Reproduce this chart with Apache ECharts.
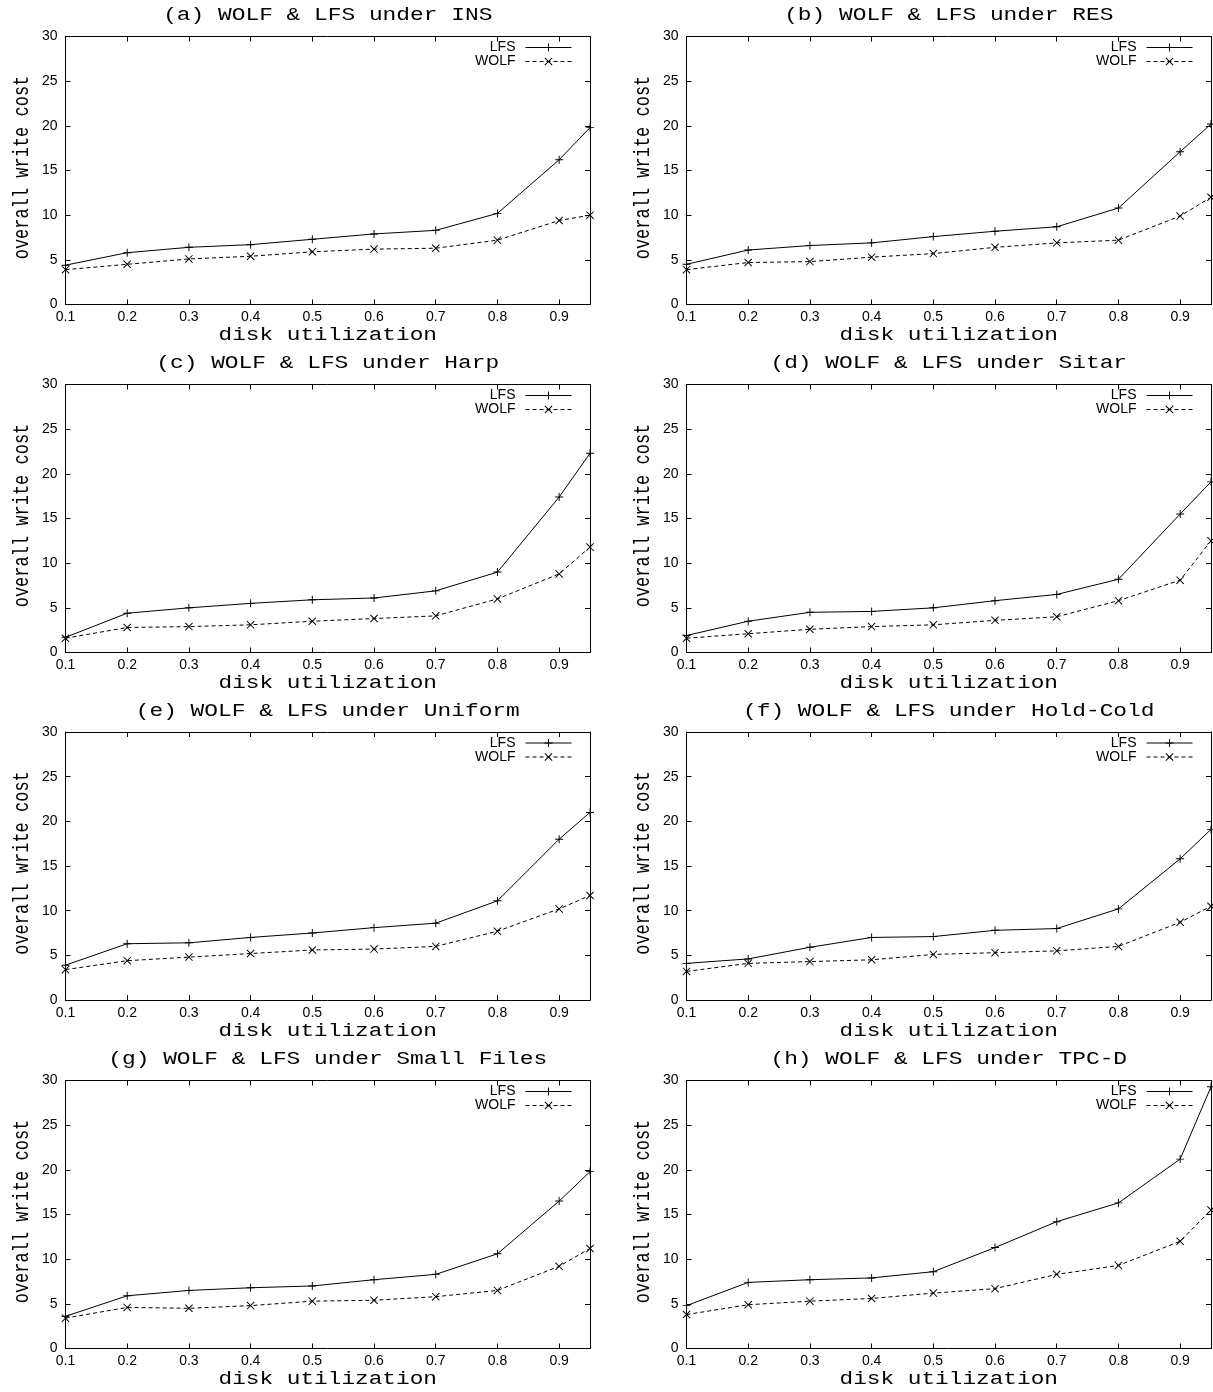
<!DOCTYPE html>
<html>
<head>
<meta charset="utf-8">
<title>WOLF & LFS</title>
<script src="https://cdn.jsdelivr.net/npm/echarts@6.0.0/dist/echarts.min.js"></script>
<style>
html,body{margin:0;padding:0;background:#fff;}
#main{width:1213px;height:1392px;}
</style>
</head>
<body>
<div id="main"></div>
<script>
// x 轴：磁盘利用率
const util = [0.1, 0.2, 0.3, 0.4, 0.5, 0.6, 0.7, 0.8, 0.9, 0.95]
const xTickLabels = ['0.1', '0.2', '0.3', '0.4', '0.5', '0.6', '0.7', '0.8', '0.9']
const yTickLabels = ['0', '5', '10', '15', '20', '25', '30']

const titles = [
    '(a) WOLF & LFS under INS',
    '(b) WOLF & LFS under RES',
    '(c) WOLF & LFS under Harp',
    '(d) WOLF & LFS under Sitar',
    '(e) WOLF & LFS under Uniform',
    '(f) WOLF & LFS under Hold-Cold',
    '(g) WOLF & LFS under Small Files',
    '(h) WOLF & LFS under TPC-D'
]

// 各负载下的 overall write cost
const lfsIns = [4.4, 5.8, 6.4, 6.7, 7.3, 7.9, 8.3, 10.2, 16.2, 19.8]
const wolfIns = [3.9, 4.5, 5.1, 5.4, 5.9, 6.2, 6.3, 7.2, 9.4, 10.0]
const lfsRes = [4.5, 6.1, 6.6, 6.9, 7.6, 8.2, 8.7, 10.8, 17.1, 20.2]
const wolfRes = [3.9, 4.7, 4.8, 5.3, 5.7, 6.4, 6.9, 7.2, 9.9, 12.0]
const lfsHarp = [1.7, 4.4, 5.0, 5.5, 5.9, 6.1, 6.9, 9.0, 17.4, 22.3]
const wolfHarp = [1.6, 2.8, 2.9, 3.1, 3.5, 3.8, 4.1, 6.0, 8.8, 11.8]
const lfsSitar = [1.9, 3.5, 4.5, 4.6, 5.0, 5.8, 6.5, 8.2, 15.5, 19.1]
const wolfSitar = [1.6, 2.1, 2.6, 2.9, 3.1, 3.6, 4.0, 5.8, 8.1, 12.5]
const lfsUniform = [3.9, 6.3, 6.4, 7.0, 7.5, 8.1, 8.6, 11.1, 18.0, 21.0]
const wolfUniform = [3.4, 4.4, 4.8, 5.2, 5.6, 5.7, 6.0, 7.7, 10.2, 11.7]
const lfsHoldCold = [4.1, 4.6, 5.9, 7.0, 7.1, 7.8, 8.0, 10.2, 15.8, 19.1]
const wolfHoldCold = [3.2, 4.1, 4.3, 4.5, 5.1, 5.3, 5.5, 6.0, 8.7, 10.5]
const lfsSmall = [3.6, 5.9, 6.5, 6.8, 7.0, 7.7, 8.3, 10.6, 16.5, 19.8]
const wolfSmall = [3.4, 4.6, 4.5, 4.8, 5.3, 5.4, 5.8, 6.5, 9.2, 11.2]
const lfsTpcd = [4.8, 7.4, 7.7, 7.9, 8.6, 11.3, 14.2, 16.3, 21.2, 29.3]
const wolfTpcd = [3.8, 4.9, 5.3, 5.6, 6.2, 6.7, 8.3, 9.3, 12.0, 15.5]

const lfsAll = [lfsIns, lfsRes, lfsHarp, lfsSitar, lfsUniform, lfsHoldCold, lfsSmall, lfsTpcd]
const wolfAll = [wolfIns, wolfRes, wolfHarp, wolfSitar, wolfUniform, wolfHoldCold, wolfSmall, wolfTpcd]

// 布局
const W = 1213
const colLeft = [65.5, 686.5]
const colW = 524.5
const rowTop = [36.5, 384.5, 732, 1080.5]
const rowH = 268
const legendRight = [W - 572, W - 1193]

const plusPath = 'path://M0,4.4H10V5.6H0Z M4.4,0H5.6V10H4.4Z'
const crossPath = 'path://M0.85,0L10,9.15L9.15,10L0,0.85Z M9.15,0L10,0.85L0.85,10L0,9.15Z'

const sans = 'Liberation Sans'
const mono = 'Liberation Mono'

function pairs(vals){
    return util.map((u, i) => [u, vals[i]])
}

function xLabel(v){
    let s = v.toFixed(1)
    return (xTickLabels.indexOf(s) >= 0 && Math.abs(v - parseFloat(s)) < 1e-6) ? s : ''
}

function yLabel(v){
    let s = String(Math.round(v))
    return yTickLabels.indexOf(s) >= 0 ? s : ''
}

let grid = [], xAxis = [], yAxis = [], series = [], legend = [], graphic = []

titles.forEach((t, i) => {
    let col = i % 2, row = Math.floor(i / 2)
    let left = colLeft[col], top = rowTop[row]
    grid.push({ left: left, top: top, width: colW, height: rowH, show: false })

    let tick = { show: true, inside: true, length: 5, lineStyle: { color: '#000' } }
    let line = { show: true, onZero: false, lineStyle: { color: '#000', width: 1 } }

    xAxis.push({
        type: 'value', gridIndex: i, min: 0.1, max: 0.95, interval: 0.1,
        axisLine: line, axisTick: tick, splitLine: { show: false },
        axisLabel: { color: '#000', fontFamily: sans, fontSize: 14, margin: 6, showMaxLabel: false, formatter: xLabel }
    })
    xAxis.push({
        type: 'value', gridIndex: i, position: 'top', min: 0.1, max: 0.95, interval: 0.1,
        axisLine: line, axisTick: tick, splitLine: { show: false }, axisLabel: { show: false }
    })
    yAxis.push({
        type: 'value', gridIndex: i, min: 0, max: 30, interval: 5,
        axisLine: line, axisTick: tick, splitLine: { show: false },
        axisLabel: { color: '#000', fontFamily: sans, fontSize: 14, margin: 8, formatter: yLabel }
    })
    yAxis.push({
        type: 'value', gridIndex: i, position: 'right', min: 0, max: 30, interval: 5,
        axisLine: line, axisTick: tick, splitLine: { show: false }, axisLabel: { show: false }
    })

    series.push({
        name: 'LFS', type: 'line', xAxisIndex: 2 * i, yAxisIndex: 2 * i,
        data: pairs(lfsAll[i]),
        symbol: plusPath, symbolSize: 8,
        itemStyle: { color: '#000' },
        lineStyle: { color: '#000', width: 1, type: 'solid' },
        animation: false
    })
    series.push({
        name: 'WOLF', type: 'line', xAxisIndex: 2 * i, yAxisIndex: 2 * i,
        data: pairs(wolfAll[i]),
        symbol: crossPath, symbolSize: 8,
        itemStyle: { color: '#000' },
        lineStyle: { color: '#000', width: 1, type: [4, 3] },
        animation: false
    })

    legend.push({
        data: ['LFS', 'WOLF'], orient: 'vertical', align: 'right',
        right: legendRight[col], top: top + 4,
        itemWidth: 46, itemHeight: 10, itemGap: 0, padding: 0,
        selectedMode: false,
        lineStyle: { width: 1 },
        textStyle: { color: '#000', fontFamily: sans, fontSize: 14, lineHeight: 13, padding: [0, 5, 0, 0] }
    })

    // 标题与坐标轴名称（Courier 风格，横向拉宽）
    let cx = left + colW / 2
    graphic.push({
        type: 'text', x: cx, y: top - 21, scaleX: 1.27, silent: true,
        style: { text: t, fontFamily: mono, fontSize: 18, fill: '#000', align: 'center', verticalAlign: 'middle' }
    })
    graphic.push({
        type: 'text', x: cx, y: top + rowH + 31, scaleX: 1.3, silent: true,
        style: { text: 'disk utilization', fontFamily: mono, fontSize: 17.5, fill: '#000', align: 'center', verticalAlign: 'middle' }
    })
    graphic.push({
        type: 'text', x: left - 43, y: top + rowH / 2 - 3, rotation: Math.PI / 2, scaleY: 1.3, silent: true,
        style: { text: 'overall write cost', fontFamily: mono, fontSize: 17, fill: '#000', align: 'center', verticalAlign: 'middle' }
    })
})

let chart = echarts.init(document.getElementById('main'))
chart.setOption({
    backgroundColor: '#fff',
    animation: false,
    grid: grid,
    xAxis: xAxis,
    yAxis: yAxis,
    legend: legend,
    graphic: graphic,
    series: series
})
</script>
</body>
</html>
